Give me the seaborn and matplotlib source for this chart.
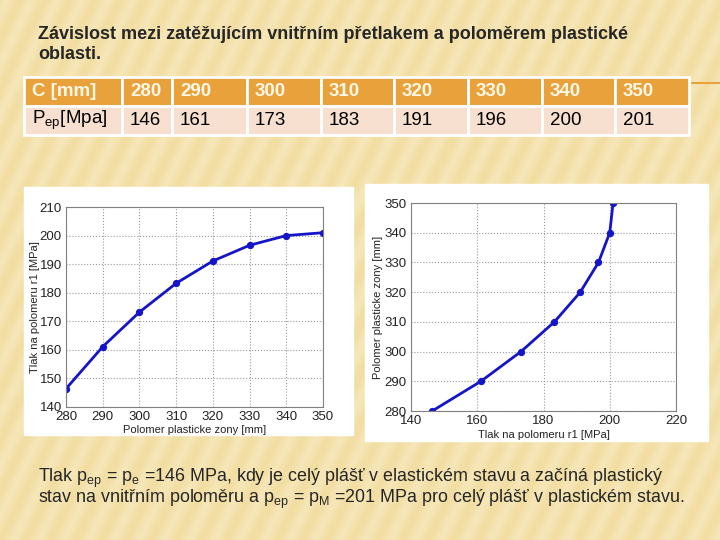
import numpy as np
import matplotlib
matplotlib.use('Agg')
import matplotlib.pyplot as plt
import seaborn as sns
import pandas as pd

# Data
polomer_mm = [280, 290, 300, 310, 320, 330, 340, 350]
tlak_tabulka = [146, 161, 173, 183, 191, 196, 200, 201]
tlak_graf = [146.4, 161.1, 173.2, 183.3, 191.1, 196.6, 200.0, 201.0]

title_text = ("Závislost mezi zatěžujícím vnitřním přetlakem a poloměrem plastické\n"
              "oblasti.")
bottom_line1 = (r"Tlak p$_{\mathregular{ep}}$ = p$_{\mathregular{e}}$ =146 MPa, kdy je celý "
                r"plášť v elastickém stavu a začíná plastický")
bottom_line2 = (r"stav na vnitřním poloměru a p$_{\mathregular{ep}}$ = p$_{\mathregular{M}}$ "
                r"=201 MPa pro celý plášť v plastickém stavu.")

df = pd.DataFrame({'C': polomer_mm, 'p': tlak_graf})

sns.set_style('white')
plt.rcParams['font.family'] = ['Liberation Sans', 'DejaVu Sans']
plt.rcParams['mathtext.fontset'] = 'custom'
plt.rcParams['mathtext.rm'] = 'Liberation Sans'

fig = plt.figure(figsize=(7.2, 5.4), dpi=100)

# background: beige with soft diagonal streaks
bg = fig.add_axes([0, 0, 1, 1], zorder=-10)
yy, xx = np.mgrid[0:540, 0:720]
streak = 0.5 + 0.5 * np.sin((xx + 0.5 * yy) / 4.0)
base = np.array([242, 222, 163]) / 255.0
light = np.array([248, 234, 192]) / 255.0
img = base + (light - base) * streak[..., None] * 0.7
bg.imshow(img, extent=[0, 720, 540, 0], aspect='auto')
bg.set_xlim(0, 720)
bg.set_ylim(540, 0)
bg.axis('off')

# white panels behind the charts
bg.add_patch(plt.Rectangle((24, 187), 329, 248, color='white', zorder=2))
bg.add_patch(plt.Rectangle((365, 184), 343, 257, color='white', zorder=2))
# orange line right of the table
bg.plot([692, 720], [83, 83], color='#E9A23B', lw=1.5, zorder=2)

# title and note
fig.text(38 / 720, 1 - 26 / 540, title_text, ha='left', va='top',
         fontsize=13, fontweight='bold', linespacing=1.2)
fig.text(38 / 720, 1 - 478 / 540, bottom_line1, ha='left', va='center', fontsize=12.9)
fig.text(38 / 720, 1 - 499 / 540, bottom_line2, ha='left', va='center', fontsize=12.9)

# table
col_w = [98, 50, 75, 74, 73, 74, 74, 73, 74]
header = ['C [mm]'] + [str(v) for v in polomer_mm]
row2 = [r'P$_{\mathregular{ep}}$[Mpa]'] + [str(v) for v in tlak_tabulka]
tab_ax = fig.add_axes([24 / 720, 1 - 135 / 540, 665 / 720, 58 / 540])
tab_ax.axis('off')
tbl = tab_ax.table(cellText=[header, row2], colWidths=[w / 665 for w in col_w],
                   cellLoc='left', bbox=[0, 0, 1, 1])
tbl.auto_set_font_size(False)
for (r, c), cell in tbl.get_celld().items():
    cell.set_edgecolor('white')
    cell.set_linewidth(2)
    cell.PAD = 8 / col_w[c]
    txt = cell.get_text()
    txt.set_fontsize(13.5)
    if r == 0:
        cell.set_facecolor('#E9A23B')
        txt.set_color('#FFF8E6')
        txt.set_fontweight('bold')
    else:
        cell.set_facecolor('#F8E0D0')
        txt.set_color('black')

# left chart
ax1 = fig.add_axes([66 / 720, 1 - 407 / 540, 257 / 720, 200 / 540])
sns.lineplot(data=df, x='C', y='p', ax=ax1, color='#1414C8', lw=2,
             marker='o', markersize=4.5, markeredgecolor='#1414C8')
ax1.set_xlim(280, 350)
ax1.set_ylim(140, 210)
ax1.set_xticks(range(280, 351, 10))
ax1.set_yticks(range(140, 211, 10))
ax1.set_xlabel('Polomer plasticke zony [mm]', fontsize=8, labelpad=1)
ax1.set_ylabel('Tlak na polomeru r1 [MPa]', fontsize=8, labelpad=0)

# right chart
ax2 = fig.add_axes([411 / 720, 1 - 411 / 540, 265 / 720, 208 / 540])
sns.lineplot(data=df, x='p', y='C', ax=ax2, color='#1414C8', lw=2,
             marker='o', markersize=4.5, markeredgecolor='#1414C8',
             sort=False, orient='y')
ax2.set_xlim(140, 220)
ax2.set_ylim(280, 350)
ax2.set_xticks(range(140, 221, 20))
ax2.set_yticks(range(280, 351, 10))
ax2.set_xlabel('Tlak na polomeru r1 [MPa]', fontsize=8, labelpad=2)
ax2.set_ylabel('Polomer plasticke zony [mm]', fontsize=8, labelpad=1)

for ax in (ax1, ax2):
    ax.grid(True, linestyle=':', color='#9a9a9a', lw=0.8)
    ax.tick_params(labelsize=9.5, colors='#222222', length=0)
    ax.tick_params(axis='x', pad=3)
    ax.tick_params(axis='y', pad=3)
    for s in ax.spines.values():
        s.set_color('#808080')
        s.set_linewidth(0.8)
    ax.xaxis.label.set_color('#222222')
    ax.yaxis.label.set_color('#222222')

fig.savefig('out.png', dpi=100)
